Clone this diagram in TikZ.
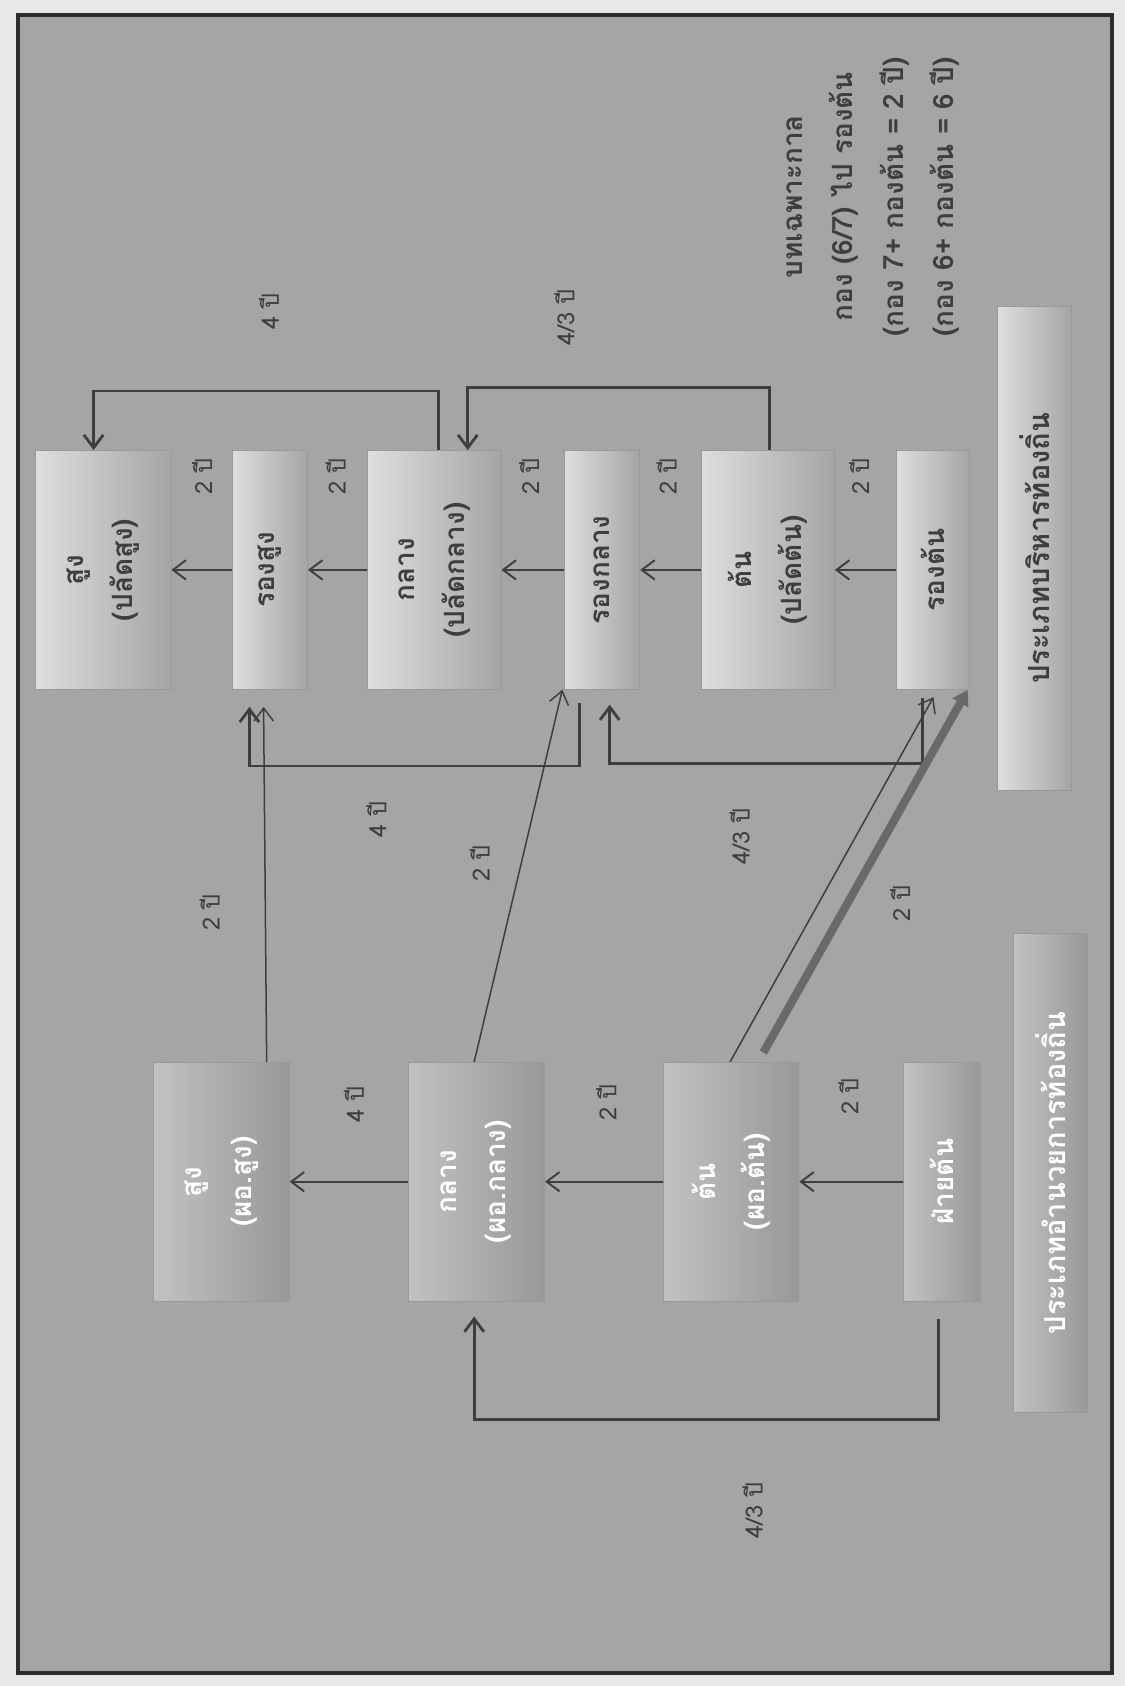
\documentclass[tikz,border=0pt]{standalone}
\usepackage{fontspec}
\setmainfont[Script=Thai]{Loma}
\usetikzlibrary{arrows.meta}
\definecolor{pagebg}{RGB}{232,232,232}
\definecolor{bgpanel}{RGB}{164,165,167}
\definecolor{frameink}{RGB}{45,45,48}
\definecolor{inkdark}{RGB}{62,62,64}
\definecolor{boxhi}{RGB}{222,222,224}
\definecolor{boxmid}{RGB}{192,192,194}
\definecolor{boxlo}{RGB}{165,165,167}
\definecolor{dirhi}{RGB}{194,194,196}
\definecolor{dirmid}{RGB}{172,172,174}
\definecolor{dirlo}{RGB}{152,152,154}
\definecolor{thickgray}{RGB}{105,105,108}

\begin{document}
\begin{tikzpicture}[x=0.5pt, y=-0.5pt, >={Straight Barb[length=6pt,width=9pt]}]
  \tikzstyle{execbox} = [rectangle, draw=black!40, line width=0.4pt, rotate=90, align=center,
                         text=inkdark, font=\fontsize{13}{23}\selectfont\bfseries, minimum width=111pt,
                         left color=boxhi, middle color=boxmid, right color=boxlo, inner sep=0pt]
  \tikzstyle{dirbox} = [execbox, text=white, left color=dirhi, middle color=dirmid, right color=dirlo]
  \tikzstyle{yearlbl} = [rotate=90, text=inkdark, font=\fontsize{11}{13}\selectfont, inner sep=1pt]
  \tikzstyle{flow} = [draw=inkdark, line width=0.9pt]
  \tikzstyle{bracket} = [draw=inkdark, line width=1.3pt]
  \tikzstyle{thinline} = [draw=inkdark, line width=0.7pt]

\useasboundingbox (0,0) rectangle (1046,1568);
\fill[pagebg] (0,0) rectangle (1046,1568);
\draw[line width=1.8pt, draw=frameink, fill=bgpanel] (17,14) rectangle (1034,1556);

% executive track
\node[execbox, minimum height=63pt] (pSung) at (96,530) {สูง\\(ปลัดสูง)};
\node[execbox, minimum height=35pt] (rSung) at (251,530) {รองสูง};
\node[execbox, minimum height=62pt] (pKlang) at (404,530) {กลาง\\(ปลัดกลาง)};
\node[execbox, minimum height=35pt] (rKlang) at (560,530) {รองกลาง};
\node[execbox, minimum height=62pt] (pTon) at (714,530) {ต้น\\(ปลัดต้น)};
\node[execbox, minimum height=34pt] (rTon) at (868,530) {รองต้น};
\node[execbox, minimum height=34.5pt, minimum width=225pt, font=\fontsize{13.5}{23}\selectfont\bfseries] (boriharType) at (962,510) {ประเภทบริหารท้องถิ่น};

% director track
\node[dirbox, minimum height=63pt] (dSung) at (206,1099) {สูง\\(ผอ.สูง)};
\node[dirbox, minimum height=63.5pt] (dKlang) at (443,1099) {กลาง\\(ผอ.กลาง)};
\node[dirbox, minimum height=63pt] (dTon) at (680,1099) {ต้น\\(ผอ.ต้น)};
\node[dirbox, minimum height=35.5pt] (dFai) at (876,1099) {ฝ่ายต้น};
\node[dirbox, minimum height=34.5pt, minimum width=223pt, font=\fontsize{13.5}{23}\selectfont\bfseries] (amnuayType) at (977,1091) {ประเภทอำนวยการท้องถิ่น};

\node[rotate=90, align=center, text=inkdark, font=\fontsize{13}{23.5}\selectfont\bfseries] (transit) at (812,183)
  {บทเฉพาะกาล\\กอง (6/7) ไป รองต้น\\(กอง 7+ กองต้น = 2 ปี)\\(กอง 6+ กองต้น = 6 ปี)};

% year labels
\node[yearlbl] (yr1) at (188,443) {2 ปี};
\node[yearlbl] (yr2) at (312,443) {2 ปี};
\node[yearlbl] (yr3) at (492,443) {2 ปี};
\node[yearlbl] (yr4) at (620,443) {2 ปี};
\node[yearlbl] (yr5) at (799,443) {2 ปี};
\node[yearlbl] (yrA) at (250,290) {4 ปี};
\node[yearlbl] (yrB) at (525,295) {4/3 ปี};
\node[yearlbl] (yrC) at (350,762) {4 ปี};
\node[yearlbl] (yrD) at (195,849) {2 ปี};
\node[yearlbl] (yrE) at (446,803) {2 ปี};
\node[yearlbl] (yrF) at (688,778) {4/3 ปี};
\node[yearlbl] (yrG) at (837,840) {2 ปี};
\node[yearlbl] (yrH) at (329,1027) {4 ปี};
\node[yearlbl] (yrI) at (564,1025) {2 ปี};
\node[yearlbl] (yrJ) at (789,1020) {2 ปี};
\node[yearlbl] (yrK) at (700,1405) {4/3 ปี};

\draw[flow,->] (rSung) -- (pSung);
\draw[flow,->] (pKlang) -- (rSung);
\draw[flow,->] (rKlang) -- (pKlang);
\draw[flow,->] (pTon) -- (rKlang);
\draw[flow,->] (rTon) -- (pTon);
\draw[flow,->] (dKlang) -- (dSung);
\draw[flow,->] (dTon) -- (dKlang);
\draw[flow,->] (dFai) -- (dTon);

\draw[bracket,->] ([xshift=2pt]pKlang.east) -- ++(0,-55) -| ([xshift=-4.5pt]pSung.east);
\draw[bracket,->] ([xshift=1pt]pTon.east) -- ++(0,-58) -| ([xshift=15.5pt]pKlang.east);
\draw[bracket,->, shorten <=6pt, shorten >=8pt] ([xshift=-10.5pt]rKlang.west) -- ++(0,71) -| ([xshift=-9.5pt]rSung.west);
\draw[bracket,->, shorten <=4pt, shorten >=7pt] ([xshift=-5pt]rTon.west) -- ++(0,69) -| ([xshift=3.5pt]rKlang.west);
\draw[bracket,->, shorten <=8pt, shorten >=7pt] ([xshift=-1.5pt]dFai.west) -- ++(0,110) -| ([xshift=-1pt]dKlang.west);

\draw[thinline,->, shorten >=8pt] ([xshift=21pt]dSung.east) -- ([xshift=-3pt]rSung.west);
\draw[thinline,->] ([xshift=-1pt]dKlang.east) -- ([xshift=-18.5pt]rKlang.west);
\draw[thinline,->, shorten >=4pt] ([xshift=-0.5pt]dTon.east) -- ([xshift=2pt]rTon.west);
\draw[line width=3.8pt, draw=thickgray, -{Triangle[length=7pt,width=8pt]}, shorten <=5pt] ([xshift=12.5pt]dTon.east) -- ([xshift=16pt]rTon.west);
\end{tikzpicture}
\end{document}
